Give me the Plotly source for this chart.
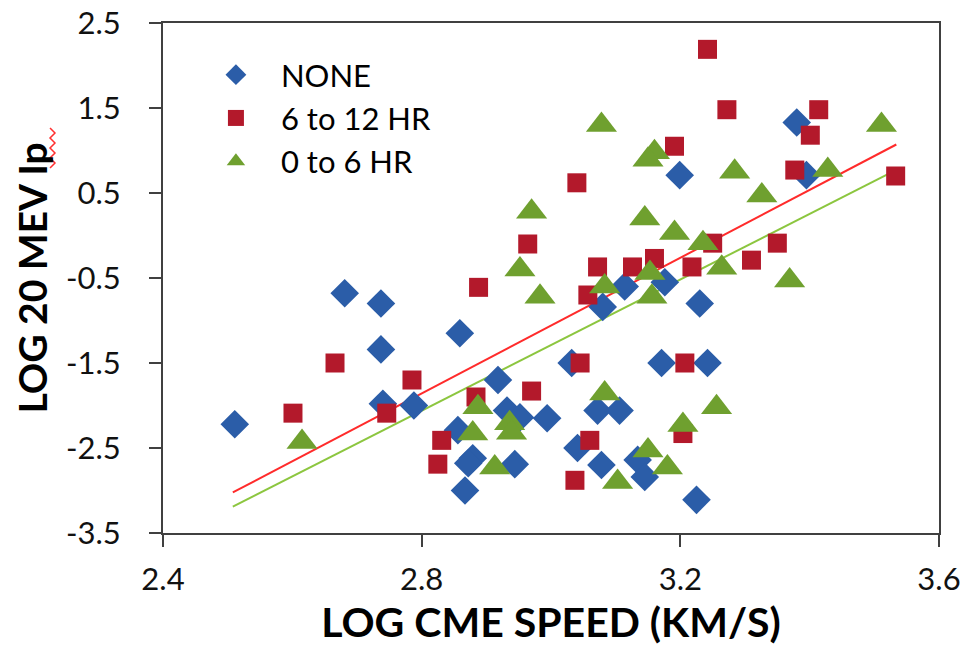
import plotly.graph_objects as go

# NONE (blue diamonds)
none_x = [2.511, 2.681, 2.737, 2.737, 2.740, 2.788, 2.859, 2.918, 2.856, 2.932, 2.952, 2.994,
          2.879, 2.872, 2.944, 2.867, 3.032, 3.080, 3.114, 3.176, 3.230, 3.171, 3.242, 3.072,
          3.106, 3.041, 3.078, 3.134, 3.145, 3.225, 3.380, 3.199, 3.395]
none_y = [-2.22, -0.68, -0.80, -1.34, -1.98, -2.00, -1.15, -1.70, -2.29, -2.06, -2.14, -2.15,
          -2.62, -2.68, -2.69, -3.00, -1.50, -0.84, -0.60, -0.55, -0.80, -1.50, -1.50, -2.06,
          -2.06, -2.50, -2.70, -2.64, -2.84, -3.11, 1.33, 0.71, 0.71]

# 6 to 12 HR (red squares)
hr612_x = [2.601, 2.666, 2.785, 2.746, 2.888, 2.831, 2.825, 2.884, 2.970, 2.964, 3.040, 3.242,
           3.272, 3.414, 3.401, 3.191, 3.377, 3.533, 3.350, 3.310, 3.250, 3.218, 3.160, 3.126,
           3.072, 3.057, 3.045, 3.207, 3.060, 3.037, 3.204]
hr612_y = [-2.09, -1.50, -1.70, -2.09, -0.61, -2.41, -2.69, -1.90, -1.83, -0.10, 0.62, 2.19,
           1.48, 1.48, 1.18, 1.05, 0.77, 0.70, -0.09, -0.29, -0.09, -0.37, -0.27, -0.37,
           -0.37, -0.70, -1.50, -1.50, -2.41, -2.88, -2.33]

# 0 to 6 HR (green triangles)
hr06_x = [2.615, 2.952, 2.983, 2.887, 2.879, 2.936, 2.939, 2.913, 3.078, 3.160, 3.150, 3.284,
          3.511, 3.428, 3.326, 2.970, 3.145, 3.191, 3.235, 3.264, 3.369, 3.156, 3.083, 3.153,
          3.083, 3.256, 3.204, 3.150, 3.180, 3.103]
hr06_y = [-2.43, -0.40, -0.72, -2.02, -2.33, -2.21, -2.32, -2.73, 1.30, 0.98, 0.89, 0.75,
          1.30, 0.77, 0.47, 0.28, 0.20, 0.03, -0.09, -0.38, -0.53, -0.72, -0.60, -0.44,
          -1.86, -2.02, -2.23, -2.53, -2.73, -2.90]

# Linear trend lines (slope, intercept) over x range
fit_x_range = [2.508, 3.534]
red_fit = (3.99, -13.03)
green_fit = (3.86, -12.87)

x_ticks = [2.4, 2.8, 3.2, 3.6]
y_ticks = [-3.5, -2.5, -1.5, -0.5, 0.5, 1.5, 2.5]

FONT = "Lato"

fig = go.Figure()

for (slope, icpt), col in [(red_fit, "#FF2B2B"), (green_fit, "#8CC63F")]:
    fig.add_trace(go.Scatter(
        x=fit_x_range, y=[slope * v + icpt for v in fit_x_range],
        mode="lines", line=dict(color=col, width=2), showlegend=False, hoverinfo="skip"))

fig.add_trace(go.Scatter(x=none_x, y=none_y, mode="markers", name="NONE",
                         marker=dict(symbol="diamond", size=22, color="#2B5DA8")))
fig.add_trace(go.Scatter(x=hr612_x, y=hr612_y, mode="markers", name="6 to 12 HR",
                         marker=dict(symbol="square", size=19, color="#B3192B")))
fig.add_trace(go.Scatter(x=hr06_x, y=hr06_y, mode="markers", name="0 to 6 HR",
                         marker=dict(symbol="triangle-up", size=27, color="#6FA02F")))

axis_common = dict(showgrid=False, zeroline=False, showline=True, linecolor="#404040",
                   linewidth=2, mirror=True, ticks="outside", ticklen=12, tickwidth=2,
                   tickcolor="#404040", automargin=False, ticklabeloverflow="allow",
                   tickfont=dict(family=FONT, size=31, color="#111111"))

fig.update_xaxes(range=[2.4, 3.6], tickvals=x_ticks, ticktext=[f"{v:.1f}" for v in x_ticks],
                 ticklabelstandoff=6,
                 title=dict(text="LOG CME SPEED (KM/S)",
                            font=dict(family=FONT, size=41, color="#000000", weight="bold"),
                            standoff=12),
                 **axis_common)
fig.update_yaxes(range=[-3.5, 2.5], tickvals=y_ticks, ticktext=[f"{v:.1f}" for v in y_ticks],
                 ticklabelstandoff=22,
                 title=dict(text="LOG 20 MEV Ip",
                            font=dict(family=FONT, size=39, color="#000000", weight="bold"),
                            standoff=6),
                 **axis_common)

# spell-check squiggle under "Ip" in the y title (decoration), positions in screen px
PL, PT, PW, PH = 163, 23, 776, 510

def px2paper(px, py):
    return (px - PL) / PW, (PT + PH - py) / PH

pts = []
for i in range(9):
    py = 128 + i * 5
    px = 50 if i % 2 == 0 else 55
    pts.append(px2paper(px, py))
path = "M " + " L ".join(f"{a:.4f},{b:.4f}" for a, b in pts)
fig.add_shape(type="path", path=path, xref="paper", yref="paper",
              line=dict(color="#FF3030", width=1.5))

W, H = 969, 671
fig.update_layout(
    width=W, height=H,
    margin=dict(l=PL, r=W - (PL + PW), t=PT, b=H - (PT + PH), autoexpand=False),
    plot_bgcolor="white", paper_bgcolor="white",
    font=dict(family=FONT, color="#000000"),
    legend=dict(x=0.036, y=0.951, xanchor="left", yanchor="top",
                font=dict(family=FONT, size=31, color="#000000"),
                itemwidth=80, bgcolor="rgba(0,0,0,0)", tracegroupgap=0),
)

# remove the default page margin so the figure fills the window exactly
fig.write_html("out.html", config={"displayModeBar": False},
               post_script="document.body.style.margin='0';")
